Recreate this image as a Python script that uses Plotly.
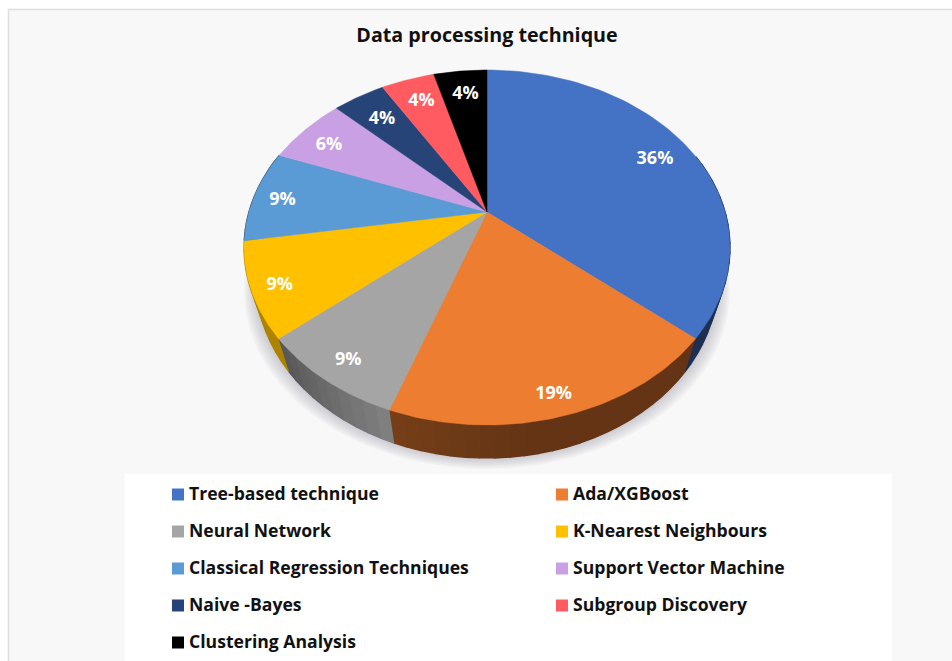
import numpy as np
import plotly.graph_objects as go

categories = ["Tree-based technique", "Ada/XGBoost", "Neural Network", "K-Nearest Neighbours",
              "Classical Regression Techniques", "Support Vector Machine", "Naive -Bayes",
              "Subgroup Discovery", "Clustering Analysis"]
slice_values = [36.2, 19.2, 8.4, 8.6, 8.4, 6.4, 4.2, 4.3, 4.3]
pct_labels = ["36%", "19%", "9%", "9%", "9%", "6%", "4%", "4%", "4%"]
colors = ["#4472C4", "#ED7D31", "#A5A5A5", "#FFC000", "#5B9BD5", "#C9A0E3", "#264478", "#FF5B61", "#000000"]
side_start = [0.42, 0.50, 0.78, 0.68, 0.5, 0.5, 0.5, 0.5, 0.5]
side_end = [0.42, 0.42, 0.52, 0.68, 0.5, 0.5, 0.5, 0.5, 0.5]
label_nudge_x = [6, -1, 4, 3, 5, 7, 12, 7, 3]
label_nudge_y = [1, 3, 0, 4, 4, 8, 13, 10, 11]
label_radius = [0.8, 0.9, 0.9, 0.9, 0.9, 0.9, 0.9, 0.9, 0.9]
title = "Data processing technique"

# Projection of the tilted pie onto the page
CX, CY, RX, RY = 487.0, 247.5, 243.0, 177.5
TILT = -0.2
DEPTH, LOWER = 33.0, 0.95
FONT = "Open Sans"


def project(theta, rho=1.0):
    u = rho * np.sin(theta)
    v = -rho * np.cos(theta)
    d = 1 + TILT * v
    return CX + RX * u * np.sqrt(1 - TILT ** 2) / d, CY + RY * (v + TILT) / d


def lower(x, y):
    return CX + (x - CX) * LOWER, y + DEPTH


def shade(hex_color, f):
    r, g, b = [int(hex_color[i:i + 2], 16) for i in (1, 3, 5)]
    return f"rgb({r * f:.0f},{g * f:.0f},{b * f:.0f})"


shares = np.array(slice_values) / sum(slice_values)
edges = np.concatenate([[0], np.cumsum(shares)]) * 2 * np.pi

fig = go.Figure()

# soft shadow under the pie
t = np.linspace(0, 2 * np.pi, 181)
for k in (12, 10, 8, 6, 4, 2):
    x, y = lower(*project(t))
    fig.add_trace(go.Scatter(x=CX + (x - CX) * (1 + k / 231), y=y + k * 0.9, mode="lines", fill="toself",
                             fillcolor="rgba(90,100,120,0.05)", line=dict(width=0), hoverinfo="skip"))

# side wall, as thin strips
for i in range(len(slice_values)):
    a, b = edges[i], edges[i + 1]
    n = max(2, int((b - a) / np.radians(3)))
    grid = np.linspace(a, b, n + 1)
    for j in range(n):
        if np.cos((grid[j] + grid[j + 1]) / 2) > 0.35:
            continue
        seg = np.linspace(grid[j], grid[j + 1], 3)
        xt, yt = project(seg)
        xb, yb = lower(xt, yt)
        f = side_start[i] + (side_end[i] - side_start[i]) * (j + 0.5) / n
        if i == 1:
            f = side_end[i] + (side_start[i] - side_end[i]) * max(0, (j + 0.5) / n - 0.6) / 0.4
        col = shade(colors[i], f)
        fig.add_trace(go.Scatter(x=np.r_[xt, xb[::-1]], y=np.r_[yt, yb[::-1]], mode="lines", fill="toself",
                                 fillcolor=col, line=dict(width=1.4, color=col), hoverinfo="skip"))

# top face
apex_x, apex_y = project(0.0, 0.0)
for i, name in enumerate(categories):
    seg = np.linspace(edges[i], edges[i + 1], 80)
    xs, ys = project(seg)
    fig.add_trace(go.Scatter(x=np.r_[apex_x, xs, apex_x], y=np.r_[apex_y, ys, apex_y], mode="lines",
                             fill="toself", fillcolor=colors[i], line=dict(width=0.5, color=colors[i]),
                             name=name, text=pct_labels[i], hoverinfo="name+text"))

# percentage labels
mids = (edges[:-1] + edges[1:]) / 2
lx, ly = project(mids, np.array(label_radius))
fig.add_trace(go.Scatter(x=lx + np.array(label_nudge_x), y=ly + np.array(label_nudge_y), mode="text", text=pct_labels,
                         textfont=dict(family=FONT, size=18, color="white", weight="bold"), hoverinfo="skip"))

# legend, two columns
idx = np.arange(len(categories))
leg_x = np.where(idx % 2 == 0, 178.0, 562.0)
leg_y = 494.5 + (idx // 2) * 37.0
fig.add_trace(go.Scatter(x=leg_x, y=leg_y, mode="markers",
                         marker=dict(symbol="square", size=12, color=colors, line=dict(width=0)), hoverinfo="skip"))
fig.add_trace(go.Scatter(x=leg_x + 11, y=leg_y + 1, mode="text", text=categories, textposition="middle right",
                         textfont=dict(family=FONT, size=17.6, color="#111111", weight="bold"), hoverinfo="skip"))

fig.update_layout(
    width=952, height=661, margin=dict(l=0, r=0, t=0, b=0), showlegend=False,
    paper_bgcolor="white", plot_bgcolor="rgba(0,0,0,0)",
    title=dict(text=title, x=487 / 952, xanchor="center", y=1 - 35 / 661, yanchor="middle",
               font=dict(family=FONT, size=19.7, color="#111111", weight="bold")),
    xaxis=dict(range=[0, 952], visible=False, fixedrange=True),
    yaxis=dict(range=[661, 0], visible=False, fixedrange=True),
    shapes=[
        dict(type="rect", xref="x", yref="y", x0=8.5, y0=9.5, x1=960, y1=670, layer="below",
             fillcolor="#F8F8F8", line=dict(color="#DEDEDE", width=1.5)),
        dict(type="rect", xref="x", yref="y", x0=125, y0=474, x1=892, y1=670, layer="below",
             fillcolor="#FFFFFF", line=dict(width=0)),
    ],
)
fig.write_html("out.html", config={"displayModeBar": False},
               post_script="document.body.style.margin='0';document.body.style.overflow='hidden';")
